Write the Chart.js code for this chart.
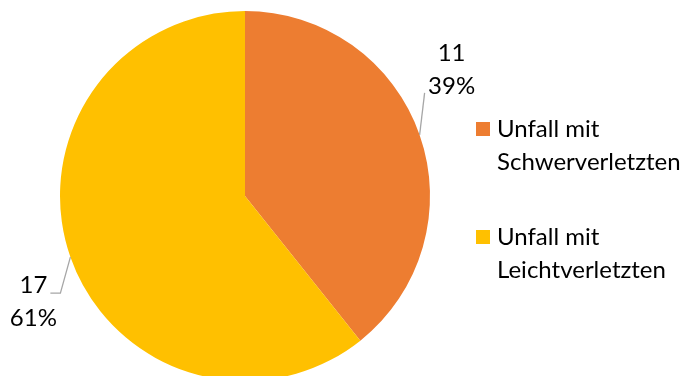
<!DOCTYPE html>
<html>
<head>
<meta charset="utf-8">
<script src="https://cdn.jsdelivr.net/npm/chart.js@4"></script>
<style>
  html, body { margin: 0; padding: 0; background: #fff; overflow: hidden; }
  #wrap { width: 687px; height: 390px; }
</style>
</head>
<body>
<div id="wrap"><canvas id="pieChart" width="687" height="390"></canvas></div>
<script>
const categories = [['Unfall mit', 'Schwerverletzten'], ['Unfall mit', 'Leichtverletzten']];
const counts = [11, 17];
const colors = ['#ED7D31', '#FFC000'];

const FONT = '24px Lato, "Open Sans", sans-serif';

// data labels with leader lines, drawn next to each slice
const labelPlugin = {
  id: 'pieLabels',
  afterDatasetsDraw(chart) {
    const ctx = chart.ctx;
    const meta = chart.getDatasetMeta(0);
    const total = counts.reduce((a, b) => a + b, 0);
    ctx.save();
    ctx.font = FONT;
    ctx.fillStyle = '#000';
    ctx.textAlign = 'center';
    ctx.textBaseline = 'alphabetic';
    ctx.strokeStyle = '#A6A6A6';
    ctx.lineWidth = 1.3;
    meta.data.forEach((arc, i) => {
      const mid = (arc.startAngle + arc.endAngle) / 2;
      const x0 = arc.x + Math.cos(mid) * arc.outerRadius;
      const y0 = arc.y + Math.sin(mid) * arc.outerRadius;
      const pct = Math.round(counts[i] / total * 100) + '%';
      ctx.beginPath();
      if (Math.cos(mid) >= 0) {
        ctx.moveTo(x0, y0);
        ctx.lineTo(x0 + 5, y0 - 42);
        ctx.stroke();
        ctx.fillText(String(counts[i]), x0 + 32, y0 - 74);
        ctx.fillText(pct, x0 + 32, y0 - 41);
      } else {
        ctx.moveTo(x0, y0);
        ctx.lineTo(x0 - 10, y0 + 36);
        ctx.lineTo(x0 - 20, y0 + 36);
        ctx.stroke();
        ctx.fillText(String(counts[i]), x0 - 37, y0 + 36);
        ctx.fillText(pct, x0 - 37, y0 + 69);
      }
    });
    ctx.restore();
  }
};

// legend on the right with two-line labels
const legendPlugin = {
  id: 'sideLegend',
  afterDraw(chart) {
    const ctx = chart.ctx;
    ctx.save();
    ctx.font = FONT;
    ctx.textAlign = 'left';
    ctx.textBaseline = 'alphabetic';
    let y = 137;
    categories.forEach((lines, i) => {
      ctx.fillStyle = colors[i];
      ctx.fillRect(476, y - 15, 14, 14);
      ctx.fillStyle = '#000';
      lines.forEach((t, j) => ctx.fillText(t, 497, y + j * 33));
      y += 108;
    });
    ctx.restore();
  }
};

new Chart(document.getElementById('pieChart'), {
  type: 'pie',
  data: {
    labels: categories.map(l => l.join(' ')),
    datasets: [{
      data: counts,
      backgroundColor: colors,
      borderWidth: 0
    }]
  },
  options: {
    responsive: false,
    animation: false,
    layout: { padding: { left: 60, right: 257, top: 11, bottom: 9 } },
    plugins: {
      legend: { display: false },
      tooltip: { enabled: false }
    }
  },
  plugins: [labelPlugin, legendPlugin]
});
</script>
</body>
</html>
